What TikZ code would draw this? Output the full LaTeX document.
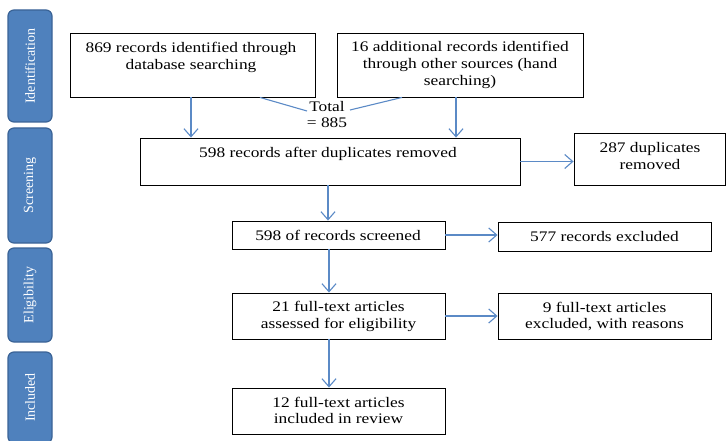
\documentclass[tikz,border=0pt]{standalone}
\usepackage{fontspec}
\setmainfont{Liberation Serif}[FakeStretch=1.19]
\newfontfamily\stagefont{Liberation Serif}
\usetikzlibrary{arrows.meta,calc}
\definecolor{arrowblue}{HTML}{5B8AC6}
\definecolor{stagefill}{HTML}{4F81BD}
\definecolor{stageline}{HTML}{3A6396}
\begin{document}
\begin{tikzpicture}[x=1pt,y=-1pt,
  box/.style={draw=black, line width=0.9pt, inner sep=0pt},
  txt/.style={inner sep=0pt, align=center, font=\fontsize{14.6}{16.7}\selectfont},
  stage/.style={draw=stageline, fill=stagefill, line width=1.2pt, rounded corners=6pt, inner sep=0pt, minimum width=44pt},
  stagetxt/.style={text=white, rotate=90, font=\stagefont\fontsize{14}{16}\selectfont, inner sep=0pt},
  flow/.style={draw=arrowblue, line width=1.1pt, -{Straight Barb[length=8pt,width=14pt]}},
  plain/.style={draw=arrowblue, line width=1.1pt}]
\useasboundingbox (0,0) rectangle (726,441);
\clip (0,0) rectangle (726,441);
% stages
\node[stage, minimum height=112pt] (s1) at (30,66) {};
\node[stagetxt] (s1t) at (s1) {Identification};
\node[stage, minimum height=115pt] (s2) at (30,185.5) {};
\node[stagetxt] (s2t) at (s2) {Screening};
\node[stage, minimum height=94pt] (s3) at (30,295) {};
\node[stagetxt] (s3t) at (s3) {Eligibility};
\node[stage, minimum height=91pt] (s4) at (30,397.5) {};
\node[stagetxt] (s4t) at (s4) {Included};
% boxes
\node[box, minimum width=245pt, minimum height=64pt] (A) at (192.5,65) {};
\node[txt] (At) at (191,57.5) {869 records identified through\\database searching};
\node[box, minimum width=246pt, minimum height=64pt] (B) at (460,65) {};
\node[txt] (Bt) at (460,65) {16 additional records identified\\through other sources (hand\\searching)};
\node[box, minimum width=380pt, minimum height=47pt] (C) at (330,161.5) {};
\node[txt] (Ct) at (328,154) {598 records after duplicates removed};
\node[box, minimum width=151pt, minimum height=52pt] (D) at (649.5,159) {};
\node[txt] (Dt) at (650,156) {287 duplicates\\removed};
\node[box, minimum width=213pt, minimum height=28pt] (E) at (338.5,235) {};
\node[txt] (Et) at (338,235) {598 of records screened};
\node[box, minimum width=213pt, minimum height=29pt] (F) at (604.5,236.5) {};
\node[txt] (Ft) at (604.5,236.5) {577 records excluded};
\node[box, minimum width=213pt, minimum height=46pt] (G) at (338.5,316) {};
\node[txt] (Gt) at (338.5,316.5) {21 full-text articles\\assessed for eligibility};
\node[box, minimum width=213pt, minimum height=46pt] (H) at (604.5,316) {};
\node[txt] (Ht) at (604.5,316.5) {9 full-text articles\\excluded, with reasons};
\node[box, minimum width=213pt, minimum height=46pt] (I) at (338.5,411) {};
\node[txt] (It) at (338.5,410.5) {12 full-text articles\\included in review};
\node[txt] (T) at (327,114.5) {Total\\= 885};
% coordinates
\coordinate (xa) at (191,0);
\coordinate (xb) at (456,0);
\coordinate (xc) at (328,0);
\coordinate (xe) at (329,0);
\coordinate (xta) at (260,0);
\coordinate (xtb) at (402,0);
\coordinate (tl) at (307,111);
\coordinate (tr) at (350,110);
% connectors
\draw[flow] (A.south -| xa) -- (C.north -| xa);
\draw[flow] (B.south -| xb) -- (C.north -| xb);
\draw[plain] (A.south -| xta) -- (tl);
\draw[plain] (B.south -| xtb) -- (tr);
\draw[flow] (C.east) -- (C.east -| D.west);
\draw[flow] (C.south -| xc) -- (E.north -| xc);
\draw[flow] (E.east) -- (E.east -| F.west);
\draw[flow] (E.south -| xe) -- (G.north -| xe);
\draw[flow] (G.east) -- (G.east -| H.west);
\draw[flow] (G.south -| xe) -- (I.north -| xe);
\end{tikzpicture}
\end{document}
